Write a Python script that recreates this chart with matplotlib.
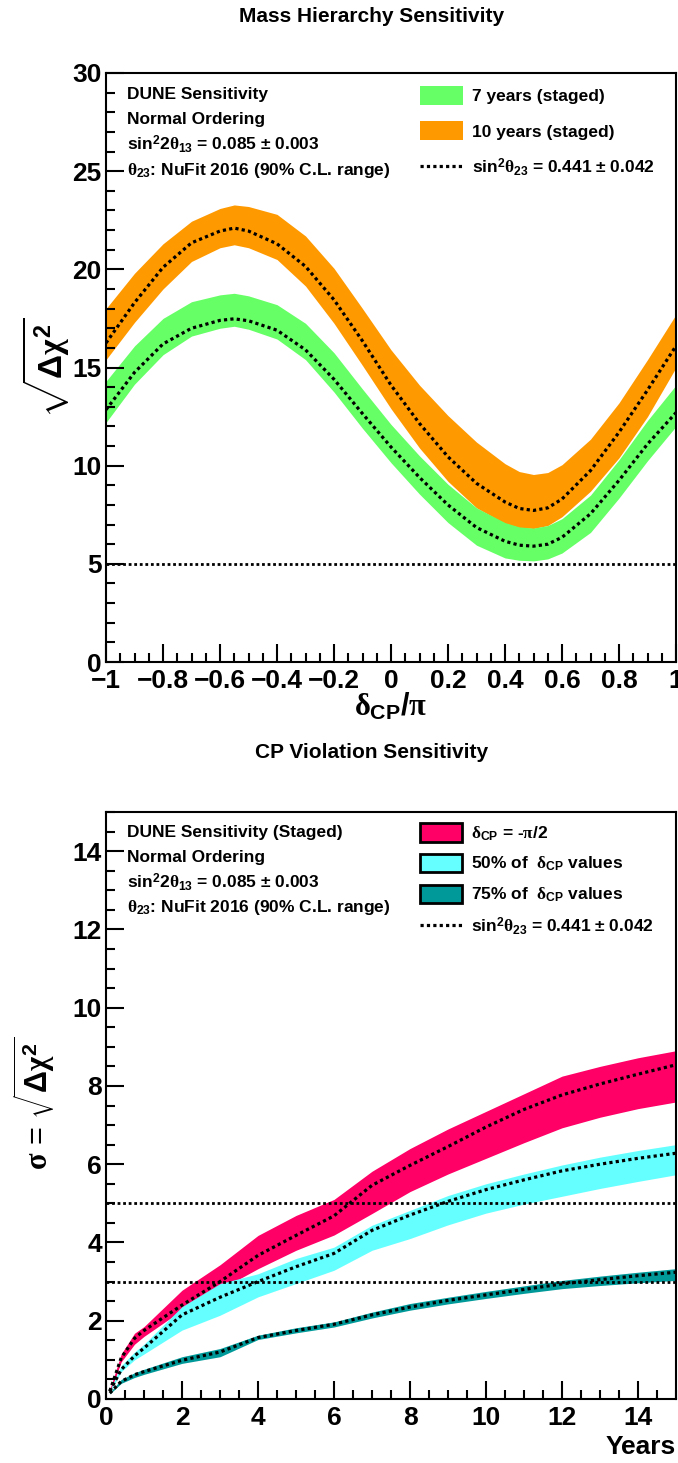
import numpy as np
import matplotlib
matplotlib.use("Agg")
import matplotlib.pyplot as plt
from matplotlib.patches import Patch
from matplotlib.lines import Line2D
from matplotlib.ticker import MultipleLocator

# ---- data: mass hierarchy ----
dcp = [-1.0, -0.9, -0.8, -0.7, -0.6, -0.55, -0.5, -0.4, -0.3, -0.2, -0.1, 0.0,
       0.1, 0.2, 0.3, 0.4, 0.45, 0.5, 0.55, 0.6, 0.7, 0.8, 0.9, 1.0]
mh10_mid = [16.25, 18.3, 20.1, 21.35, 21.95, 22.1, 21.95, 21.3, 20.15, 18.45, 16.35, 14.1,
            12.15, 10.45, 9.1, 8.15, 7.82, 7.72, 7.85, 8.3, 9.75, 11.7, 13.85, 16.1]
mh10_hi = [18.0, 19.8, 21.3, 22.45, 23.1, 23.28, 23.2, 22.8, 21.7, 20.05, 18.0, 15.9,
           14.1, 12.55, 11.2, 10.1, 9.7, 9.55, 9.65, 10.05, 11.35, 13.2, 15.4, 17.7]
mh10_lo = [15.4, 17.3, 19.0, 20.4, 21.1, 21.25, 21.1, 20.5, 19.15, 17.25, 15.1, 12.9,
           10.9, 9.2, 7.85, 7.05, 6.85, 6.8, 6.95, 7.4, 8.7, 10.4, 12.5, 15.0]
mh7_mid = [12.85, 14.75, 16.2, 17.0, 17.4, 17.48, 17.38, 16.9, 15.9, 14.4, 12.65, 10.95,
           9.4, 8.0, 6.85, 6.15, 5.95, 5.9, 6.0, 6.35, 7.55, 9.25, 11.1, 12.7]
mh7_hi = [14.3, 16.1, 17.5, 18.35, 18.7, 18.78, 18.65, 18.2, 17.25, 15.75, 13.9, 12.1,
          10.5, 9.05, 7.85, 7.1, 6.88, 6.82, 6.95, 7.3, 8.5, 10.3, 12.3, 14.1]
mh7_lo = [12.2, 14.15, 15.65, 16.6, 17.0, 17.1, 16.95, 16.45, 15.4, 13.75, 11.9, 10.15,
          8.55, 7.1, 5.95, 5.3, 5.18, 5.15, 5.25, 5.55, 6.6, 8.35, 10.25, 12.0]

# ---- data: CP violation vs exposure ----
years = [0.1, 0.4, 0.75, 1, 2, 3, 4, 5, 6, 7, 8, 9, 10, 11, 12, 13, 14, 15]
cp_mid = [0.2, 1.05, 1.55, 1.75, 2.4, 3.0, 3.67, 4.18, 4.68, 5.46, 5.97, 6.45, 6.95, 7.4, 7.77, 8.05, 8.3, 8.54]
cp_hi = [0.25, 1.15, 1.68, 1.85, 2.78, 3.43, 4.18, 4.69, 5.1, 5.82, 6.4, 6.9, 7.35, 7.8, 8.25, 8.5, 8.72, 8.9]
cp_lo = [0.15, 0.95, 1.4, 1.6, 2.27, 2.8, 3.33, 3.8, 4.19, 4.74, 5.3, 5.75, 6.15, 6.55, 6.93, 7.2, 7.42, 7.59]
c50_mid = [0.2, 0.75, 1.1, 1.3, 2.15, 2.6, 3.0, 3.38, 3.72, 4.31, 4.7, 5.05, 5.35, 5.6, 5.83, 6.0, 6.15, 6.28]
c50_hi = [0.22, 0.85, 1.2, 1.4, 2.36, 2.95, 3.2, 3.59, 3.88, 4.44, 4.82, 5.2, 5.5, 5.75, 5.98, 6.18, 6.35, 6.5]
c50_lo = [0.17, 0.7, 1.0, 1.15, 1.76, 2.14, 2.61, 2.95, 3.29, 3.8, 4.1, 4.45, 4.75, 4.98, 5.18, 5.38, 5.56, 5.73]
c75_mid = [0.15, 0.45, 0.62, 0.7, 0.99, 1.2, 1.57, 1.75, 1.91, 2.15, 2.35, 2.52, 2.66, 2.8, 2.94, 3.05, 3.15, 3.24]
c75_hi = [0.17, 0.5, 0.67, 0.76, 1.08, 1.29, 1.63, 1.82, 1.97, 2.22, 2.44, 2.6, 2.75, 2.89, 3.03, 3.14, 3.24, 3.33]
c75_lo = [0.13, 0.4, 0.55, 0.63, 0.91, 1.08, 1.52, 1.69, 1.84, 2.07, 2.27, 2.43, 2.57, 2.7, 2.82, 2.9, 2.97, 3.03]

# ---- style ----
plt.rcParams.update({
    'font.family': ['Liberation Sans', 'DejaVu Sans'],
    'font.weight': 'bold',
    'mathtext.fontset': 'custom',
    'mathtext.rm': 'Liberation Sans:bold',
    'mathtext.bf': 'Liberation Sans:bold',
    'mathtext.it': 'Liberation Serif',
    'axes.linewidth': 1.5,
})

GREEN = '#66ff66'
ORANGE = '#ff9900'
RED = '#ff0066'
CYAN = '#66ffff'
TEAL = '#009999'
DOT = (0, (1, 1))
TXT = 12.5

fig = plt.figure(figsize=(6.78, 14.63), dpi=100)
ax1 = fig.add_axes([106 / 678, 1 - 662 / 1463, 570 / 678, 589 / 1463])
ax2 = fig.add_axes([106 / 678, 1 - 1399 / 1463, 570 / 678, 587 / 1463])


def style_axis(ax, xmaj, xmin, ymaj, ymin):
    ax.xaxis.set_major_locator(MultipleLocator(xmaj))
    ax.xaxis.set_minor_locator(MultipleLocator(xmin))
    ax.yaxis.set_major_locator(MultipleLocator(ymaj))
    ax.yaxis.set_minor_locator(MultipleLocator(ymin))
    ax.tick_params(which='both', direction='in', top=False, right=False, width=1.5)
    ax.tick_params(which='major', length=13, labelsize=19, pad=3)
    ax.tick_params(which='minor', length=6.5)
    ax.tick_params(axis='x', which='major', pad=5)
    for lab in ax.get_xticklabels() + ax.get_yticklabels():
        lab.set_fontweight('bold')


# ---- top panel ----
ax1.fill_between(dcp, mh10_lo, mh10_hi, color=ORANGE, lw=0)
ax1.fill_between(dcp, mh7_lo, mh7_hi, color=GREEN, lw=0)
ax1.plot(dcp, mh10_mid, color='black', lw=2.3, ls=DOT)
ax1.plot(dcp, mh7_mid, color='black', lw=2.3, ls=DOT)
ax1.axhline(5, color='black', lw=2.0, ls=DOT)
ax1.set_xlim(-1, 1)
ax1.set_ylim(0, 30)
style_axis(ax1, 0.2, 0.05, 5, 1)
ax1.set_xticks([-1, -0.8, -0.6, -0.4, -0.2, 0, 0.2, 0.4, 0.6, 0.8, 1])
ax1.set_xticklabels(['\u22121', '\u22120.8', '\u22120.6', '\u22120.4', '\u22120.2', '0',
                     '0.2', '0.4', '0.6', '0.8', '1'], fontweight='bold')

info1 = ['DUNE Sensitivity', 'Normal Ordering',
         r'sin$^{2}$2$\theta_{13}$ = 0.085 $\pm$ 0.003',
         r'$\theta_{23}$: NuFit 2016 (90% C.L. range)']
for txt, yy in zip(info1, [0.956, 0.913, 0.869, 0.827]):
    ax1.text(0.037, yy, txt, transform=ax1.transAxes, fontsize=TXT,
             fontweight='bold', va='baseline', ha='left')

h1 = [Patch(facecolor=GREEN, edgecolor='none'),
      Patch(facecolor=ORANGE, edgecolor='none'),
      Line2D([], [], color='black', lw=2.3, ls=DOT)]
l1 = ['7 years (staged)', '10 years (staged)',
      r'sin$^{2}\theta_{23}$ = 0.441 $\pm$ 0.042']
ax1.legend(h1, l1, loc='upper left', bbox_to_anchor=(0.551, 0.978), frameon=False,
           borderpad=0, borderaxespad=0, handlelength=2.45,
           handleheight=1.3, handletextpad=0.55, labelspacing=0.95,
           prop={'weight': 'bold', 'size': TXT})

ax1.text(-0.105, 0.5, r'$\sqrt{\Delta\chi^{2}}$', transform=ax1.transAxes,
         rotation=90, ha='center', va='center', fontsize=24)
ax1.text(0.5, -0.076, r'$\delta_{\mathrm{CP}}/\pi$', transform=ax1.transAxes,
         ha='center', va='center', fontsize=22)
fig.text(372 / 678, 1 - 17 / 1463, 'Mass Hierarchy Sensitivity', ha='center',
         va='center', fontsize=15, fontweight='bold')

# ---- bottom panel ----
ax2.fill_between(years, cp_lo, cp_hi, color=RED, lw=0)
ax2.fill_between(years, c50_lo, c50_hi, color=CYAN, lw=0)
ax2.fill_between(years, c75_lo, c75_hi, color=TEAL, lw=0)
for mid in (cp_mid, c50_mid, c75_mid):
    ax2.plot(years, mid, color='black', lw=2.3, ls=DOT)
ax2.axhline(5, color='black', lw=2.0, ls=DOT)
ax2.axhline(3, color='black', lw=2.0, ls=DOT)
ax2.set_xlim(0, 15)
ax2.set_ylim(0, 15)
style_axis(ax2, 2, 0.5, 2, 0.5)

info2 = ['DUNE Sensitivity (Staged)', 'Normal Ordering',
         r'sin$^{2}$2$\theta_{13}$ = 0.085 $\pm$ 0.003',
         r'$\theta_{23}$: NuFit 2016 (90% C.L. range)']
for txt, yy in zip(info2, [0.957, 0.915, 0.871, 0.830]):
    ax2.text(0.037, yy, txt, transform=ax2.transAxes, fontsize=TXT,
             fontweight='bold', va='baseline', ha='left')

h2 = [Patch(facecolor=RED, edgecolor='black', lw=2),
      Patch(facecolor=CYAN, edgecolor='black', lw=2),
      Patch(facecolor=TEAL, edgecolor='black', lw=2),
      Line2D([], [], color='black', lw=2.3, ls=DOT)]
l2 = [r'$\delta_{\mathrm{CP}}$ = -$\pi$/2',
      r'50% of  $\delta_{\mathrm{CP}}$ values',
      r'75% of  $\delta_{\mathrm{CP}}$ values',
      r'sin$^{2}\theta_{23}$ = 0.441 $\pm$ 0.042']
ax2.legend(h2, l2, loc='upper left', bbox_to_anchor=(0.551, 0.981), frameon=False,
           borderpad=0, borderaxespad=0, handlelength=2.4,
           handleheight=1.25, handletextpad=0.55, labelspacing=0.66,
           prop={'weight': 'bold', 'size': TXT})

ax2.text(-0.126, 0.504, r'$\sigma$ = $\sqrt{\Delta\chi^{2}}$', transform=ax2.transAxes,
         rotation=90, ha='center', va='center', fontsize=22, fontweight='normal')
ax2.text(1.0, -0.082, 'Years', transform=ax2.transAxes, ha='right', va='center',
         fontsize=19, fontweight='bold')
fig.text(372 / 678, 1 - 752 / 1463, 'CP Violation Sensitivity', ha='center',
         va='center', fontsize=15, fontweight='bold')

fig.savefig('out.png', dpi=100)
